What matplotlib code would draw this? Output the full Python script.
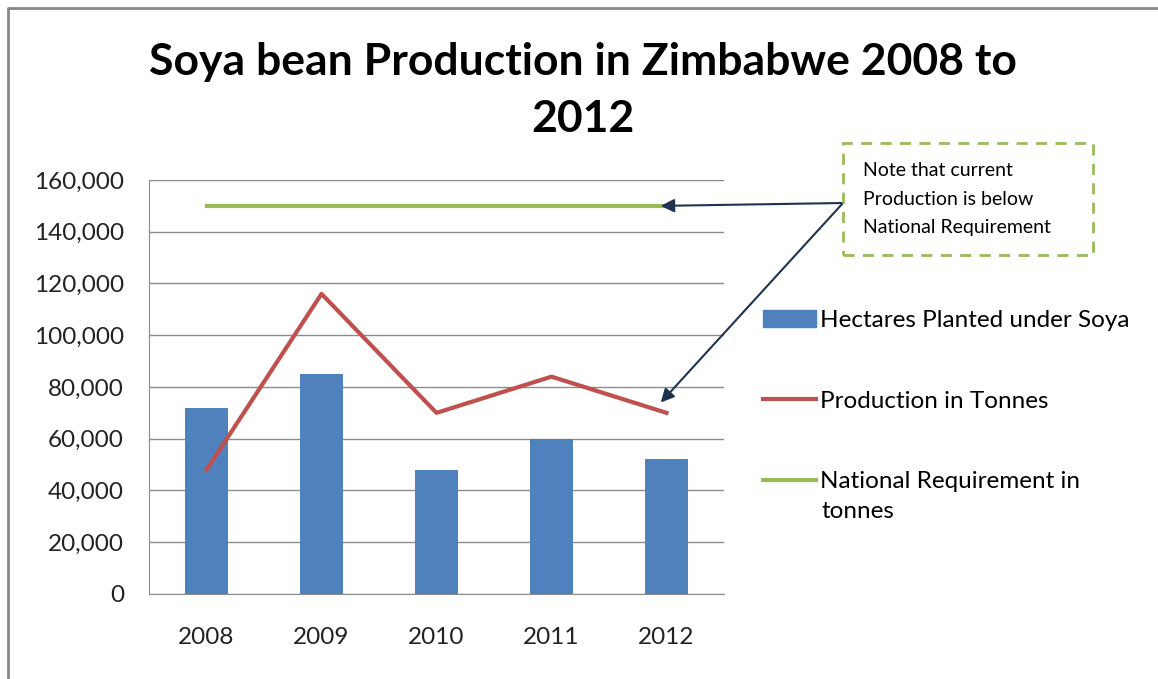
import numpy as np
import matplotlib.pyplot as plt
from matplotlib.lines import Line2D
from matplotlib.patches import Patch

# Datos
years = ["2008", "2009", "2010", "2011", "2012"]
hectares = [72000, 85000, 48000, 60000, 52000]
production = [48000, 116000, 70000, 84000, 70000]
requirement = [150000, 150000, 150000, 150000, 150000]
y_ticks = [0, 20000, 40000, 60000, 80000, 100000, 120000, 140000, 160000]

plt.rcParams['font.family'] = ['Lato', 'DejaVu Sans']

fig = plt.figure(figsize=(11.58, 6.79), dpi=100)
ax = fig.add_axes([0.1287, 0.1252, 0.4965, 0.6097])

x = np.arange(len(years))
ax.bar(x, hectares, width=0.38, color='#4F81BD', zorder=2)
ax.plot(x, production, color='#C0504D', linewidth=3, zorder=3)
ax.plot(x, requirement, color='#9BBB59', linewidth=3, zorder=3)

ax.set_xlim(-0.5, 4.5)
ax.set_ylim(0, 160000)
ax.set_yticks(y_ticks)
ax.set_yticklabels([f"{v:,}" for v in y_ticks])
ax.set_xticks(x)
ax.set_xticklabels(years)
ax.tick_params(axis='both', length=0, labelsize=17.5, colors='#222222')
ax.tick_params(axis='y', pad=18)
ax.tick_params(axis='x', pad=24)
ax.yaxis.grid(True, color='#8c8c8c', linewidth=1, zorder=0)
ax.set_axisbelow(True)
for s in ['top', 'right']:
    ax.spines[s].set_visible(False)
for s in ['left', 'bottom']:
    ax.spines[s].set_color('#8c8c8c')

# Título
fig.text(0.503, 0.867, "Soya bean Production in Zimbabwe 2008 to\n2012",
         ha='center', va='center', fontsize=32, fontweight='bold',
         linespacing=1.5)

# Leyenda
handles = [Patch(color='#4F81BD'),
           Line2D([0], [0], color='#C0504D', linewidth=3),
           Line2D([0], [0], color='#9BBB59', linewidth=3)]
labels = ["Hectares Planted under Soya", "Production in Tonnes",
          "National Requirement in"]
leg = fig.legend(handles, labels, loc='upper left',
                 bbox_to_anchor=(763 / 1158, 1 - 310 / 679),
                 frameon=False, fontsize=17.5, handlelength=2.2,
                 handletextpad=0.15, labelspacing=2.45, borderpad=0,
                 borderaxespad=0)
fig.text(822 / 1158, 1 - 512 / 679, "tonnes", ha='left', va='center',
         fontsize=17.5)

# Nota con flechas
box_xy = (843 / 1158, 1 - 203 / 679)
fig.text(863 / 1158, 1 - 199 / 679,
         "Note that current\nProduction is below\nNational Requirement",
         ha='left', va='center', fontsize=14, linespacing=1.8)
fig.patches.append(plt.Rectangle((843 / 1158, 1 - 255 / 679),
                                 250 / 1158, 112 / 679,
                                 transform=fig.transFigure, fill=False,
                                 edgecolor='#9BBB59', linewidth=2,
                                 linestyle=(0, (4, 3))))
ax.annotate("", xy=(3.95, 150000), xytext=box_xy, textcoords='figure fraction',
            arrowprops=dict(arrowstyle='-|>', color='#1F3350', lw=1.5,
                            mutation_scale=20, shrinkA=0, shrinkB=0),
            annotation_clip=False)
ax.annotate("", xy=(3.95, 74000), xytext=box_xy, textcoords='figure fraction',
            arrowprops=dict(arrowstyle='-|>', color='#1F3350', lw=1.5,
                            mutation_scale=20, shrinkA=0, shrinkB=0),
            annotation_clip=False)

# Borde exterior (solo izquierda y arriba visibles)
fig.add_artist(Line2D([8 / 1158, 8 / 1158, 1.0], [0, 1 - 8 / 679, 1 - 8 / 679],
                      transform=fig.transFigure, color='#888888', linewidth=2))

plt.savefig("out.png", dpi=100)
plt.close()
